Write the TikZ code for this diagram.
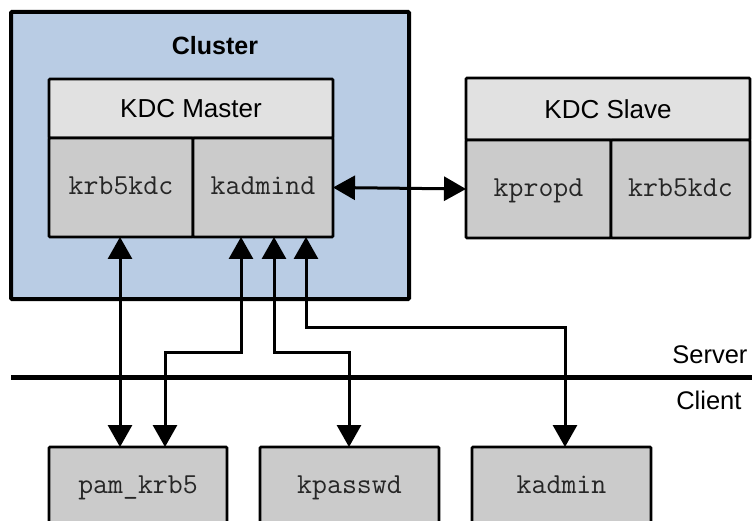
\documentclass[tikz,border=0pt]{standalone}
\usepackage{fontspec}
\setmainfont{Liberation Sans}
\usetikzlibrary{arrows.meta}
\definecolor{clusterblue}{HTML}{B9CCE4}
\definecolor{headgray}{HTML}{E1E1E1}
\definecolor{cellgray}{HTML}{CBCBCB}
\definecolor{monotext}{HTML}{262626}
\tikzset{
  x=1pt, y=1pt,
  boxbase/.style={draw=black, line width=2.6pt, rounded corners=1pt, anchor=north west, inner sep=0pt, outer sep=0pt},
  headbox/.style={boxbase, fill=headgray, font=\fontsize{26}{29}\selectfont, text height=22pt, text depth=3pt},
  cellbox/.style={boxbase, fill=cellgray, text=monotext, font=\ttfamily\fontsize{29}{32}\selectfont, text height=20pt, text depth=5pt},
  conn/.style={line width=3pt, {Triangle[width=24pt,length=22pt]}-{Triangle[width=24pt,length=22pt]}},
  label/.style={font=\fontsize{25.5}{28}\selectfont},
}
\begin{document}
\begin{tikzpicture}
\clip (0,0) rectangle (752,520);
\fill[white] (0,0) rectangle (752,520);
% cluster
\node[boxbase, line width=4pt, fill=clusterblue, minimum width=398pt, minimum height=287pt] (cluster) at (11,508) {};
\node[font=\bfseries\fontsize{25}{28}\selectfont] (clabel) at (215,474) {Cluster};
% KDC master
\node[headbox, minimum width=284pt, minimum height=59pt] (mhead) at (49,441) {KDC Master};
\node[cellbox, minimum width=144pt, minimum height=99pt] (mkrb) at (49,382) {krb5kdc};
\node[cellbox, minimum width=140pt, minimum height=99pt] (kadmind) at (193,382) {kadmind};
% KDC slave
\node[headbox, minimum width=284pt, minimum height=62pt] (shead) at (466,442) {KDC Slave};
\node[cellbox, minimum width=145pt, minimum height=98pt] (kpropd) at (466,380) {kpropd};
\node[cellbox, minimum width=139pt, minimum height=98pt] (skrb) at (611,380) {krb5kdc};
% clients
\node[cellbox, minimum width=178pt, minimum height=78pt] (pam) at (49,73) {pam\_krb5};
\node[cellbox, minimum width=179pt, minimum height=78pt] (kpasswd) at (260,73) {kpasswd};
\node[cellbox, minimum width=179pt, minimum height=78pt] (kadmin) at (472,73) {kadmin};
% server / client divider
\coordinate (lineL) at (11,143);
\coordinate (lineR) at (752,143);
\draw[line width=5pt] (lineL) -- (lineR);
\node[label, anchor=east] (server) at (751,165) {Server};
\node[label, anchor=east] (client) at (745,120) {Client};
% connectors
\draw[conn] (kadmind.east) -- (kpropd.west);
\draw[conn] (mkrb.south -| 120,0) -- (pam.north -| 120,0);
\draw[conn] (kadmind.south -| 241,0) |- (165,168) -- (pam.north -| 165,0);
\draw[conn] (kadmind.south -| 274,0) |- (349,168) -- (kpasswd.north -| 349,0);
\draw[conn] (kadmind.south -| 306,0) |- (565,193) -- (kadmin.north -| 565,0);
\end{tikzpicture}
\end{document}
